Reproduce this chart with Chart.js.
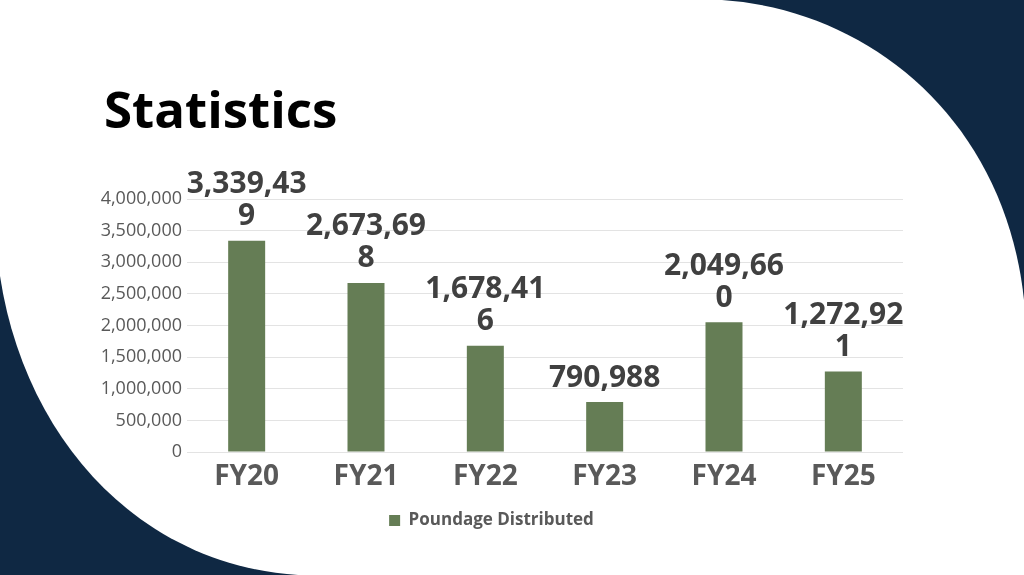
<!DOCTYPE html>
<html>
<head>
<meta charset="utf-8">
<script src="https://cdn.jsdelivr.net/npm/chart.js@4.4.1/dist/chart.umd.min.js"></script>
<style>
  html, body { margin: 0; padding: 0; width: 1024px; height: 575px; overflow: hidden; background: #0f2843; }
  #bg { position: absolute; left: 0; top: 0; }
  #title { position: absolute; left: 104px; top: 73px; font-family: "Open Sans", sans-serif; font-weight: 700; font-size: 51px; color: #000; line-height: normal; margin: 0; }
  #wrap { position: absolute; left: 0; top: 0; width: 1024px; height: 575px; }
</style>
</head>
<body>
<svg id="bg" width="1024" height="575" viewBox="0 0 1024 575">
  <path d="M0,0 L722,0 C870,10 1005,120 1024,300 L1024,575 L298,575 C140,565 25,440 0,276 Z" fill="#ffffff"/>
</svg>
<div id="title">Statistics</div>
<div id="wrap"><canvas id="c"></canvas></div>
<script>
const categories = ["FY20", "FY21", "FY22", "FY23", "FY24", "FY25"];
const poundage = [3339439, 2673698, 1678416, 790988, 2049660, 1272921];
const seriesName = "Poundage Distributed";
const yTicks = [0, 500000, 1000000, 1500000, 2000000, 2500000, 3000000, 3500000, 4000000];

const fmt = v => v.toLocaleString("en-US");

const labelPlugin = {
  id: "barLabels",
  afterDatasetsDraw(chart) {
    const ctx = chart.ctx;
    const meta = chart.getDatasetMeta(0);
    ctx.save();
    ctx.font = "700 30px 'Open Sans', sans-serif";
    ctx.fillStyle = "#404040";
    ctx.textAlign = "center";
    ctx.textBaseline = "middle";
    meta.data.forEach((bar, i) => {
      const s = fmt(chart.data.datasets[0].data[i]);
      const lines = s.length > 7 ? [s.slice(0, 8), s.slice(8)] : [s];
      const lh = 32;
      let y = bar.y - 24;
      for (let k = lines.length - 1; k >= 0; k--) {
        ctx.fillText(lines[k], bar.x, y);
        y -= lh;
      }
    });
    ctx.restore();
  }
};

new Chart(document.getElementById("c"), {
  type: "bar",
  data: {
    labels: categories,
    datasets: [{
      label: seriesName,
      data: poundage,
      backgroundColor: "#657d55",
      borderWidth: 0,
      categoryPercentage: 1.0,
      barPercentage: 0.31
    }]
  },
  options: {
    responsive: true,
    maintainAspectRatio: false,
    animation: false,
    layout: { padding: { left: 80, right: 121, top: 199, bottom: 36 } },
    plugins: {
      legend: {
        position: "bottom",
        labels: {
          boxWidth: 11, boxHeight: 11, padding: 10,
          color: "#595959",
          font: { family: "'Open Sans', sans-serif", size: 17, weight: "700" }
        }
      },
      tooltip: { enabled: false }
    },
    scales: {
      x: {
        grid: { display: false },
        border: { display: false },
        ticks: {
          color: "#595959", padding: 0,
          font: { family: "'Open Sans', sans-serif", size: 28, weight: "700" }
        },
        afterFit(scale) { scale.height = 50; }
      },
      y: {
        min: 0, max: 4000000,
        afterBuildTicks(scale) { scale.ticks = yTicks.map(v => ({ value: v })); },
        grid: { color: "#e3e3e3", drawTicks: false, lineWidth: 1 },
        border: { display: false },
        ticks: {
          color: "#595959", padding: 5,
          font: { family: "'Open Sans', sans-serif", size: 18 },
          callback: v => fmt(v)
        },
        afterFit(scale) { scale.width = 107; }
      }
    }
  },
  plugins: [labelPlugin]
});
</script>
</body>
</html>
